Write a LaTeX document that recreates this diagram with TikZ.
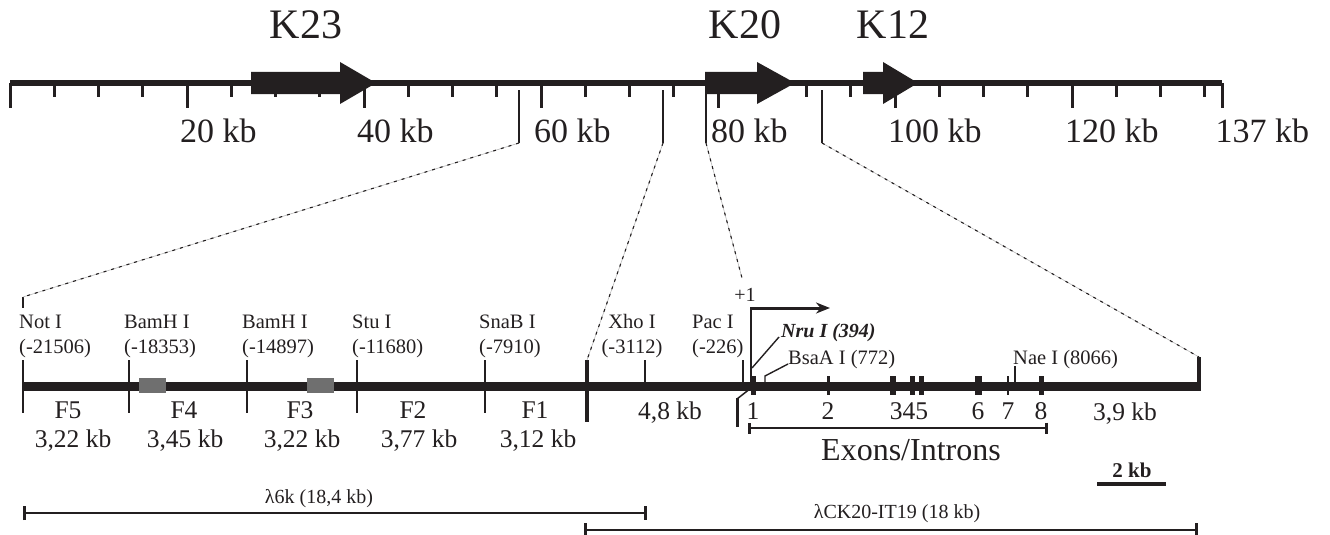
\documentclass[tikz,border=0pt]{standalone}
\usepackage{fontspec}
\setmainfont{Liberation Serif}
\usepackage{tikz}
\usetikzlibrary{
  arrows.meta,
  positioning,
  calc
}
\definecolor{mapInk}{HTML}{231F20}
\definecolor{mapGray}{HTML}{6F6F6F}
\definecolor{mapDash}{HTML}{B8B8B8}
\tikzset{
  chrom/.style={line width=6pt, mapInk},
  kbtick/.style={line width=3pt, mapInk},
  gene/.style={fill=mapInk},
  genelabel/.style={font=\fontsize{42}{50}\selectfont, inner sep=0pt, text=mapInk},
  kblabel/.style={font=\fontsize{34}{40}\selectfont, anchor=north west, inner sep=0pt, text=mapInk},
  marker/.style={line width=1.2pt, mapInk},
  zoomline/.style={mapInk, line width=1.1pt, dash pattern=on 3pt off 5pt,
    preaction={draw=mapDash, line width=0.6pt, solid}},
  mapline/.style={line width=9pt, mapInk},
  sitetick/.style={line width=1.3pt, mapInk},
  bigtick/.style={line width=4pt, mapInk},
  sitelabel/.style={font=\fontsize{20.5}{25}\selectfont, align=left, inner sep=0pt, text=mapInk},
  fraglabel/.style={font=\fontsize{25.5}{30}\selectfont, inner sep=0pt, anchor=base, text=mapInk},
  repeatbox/.style={fill=mapGray},
  exon/.style={fill=mapInk},
  leader/.style={line width=1.4pt, mapInk},
  exonspan/.style={line width=1.6pt, mapInk, {Bar[width=11pt, line width=3pt]}-{Bar[width=11pt, line width=3pt]}},
  clone/.style={line width=2.6pt, mapInk, {Bar[width=14pt]}-{Bar[width=14pt]}},
  clonelabel/.style={font=\fontsize{20}{24}\selectfont, inner sep=0pt, anchor=base, text=mapInk}
}

\begin{document}
\begin{tikzpicture}[x=1pt, y=-1pt]
  \useasboundingbox (0,0) rectangle (1330,535);
  % chromosome scale
  \draw[chrom] (10,83) -- (1222,83);
  \foreach \k in {5,10,...,135}
    \draw[kbtick] ({10+8.85*\k},83) -- ++(0,14);
  \foreach \k in {0,20,...,120,137}
    \draw[kbtick] ({10+8.85*\k},83) -- ++(0,25);
  \foreach \k in {20,40,...,120,137}
    \node[kblabel] (kb\k) at ({3+8.85*\k},119) {\k\ kb};
  \foreach \xa/\xb/\xc in {251/340/376, 705/757/795, 863/883/918}
    \fill[gene] (\xa,72) -- (\xb,72) -- (\xb,62) -- (\xc,83) -- (\xb,104) -- (\xb,94) -- (\xa,94) -- cycle;
  \node[genelabel] (k23) at (306,25) {K23};
  \node[genelabel] (k20) at (745,25) {K20};
  \node[genelabel] (k12) at (893,25) {K12};
  \foreach \x/\n in {519/a, 663/b, 706/c, 822/d}
    \draw[marker] (\x,90) -- (\x,143) coordinate (zm\n);

  % detailed map
  \draw[mapline] (23,386) -- (1199,386);
  \fill[repeatbox] (139,378) rectangle (166,393);
  \fill[repeatbox] (307,378) rectangle (334,393);
  \foreach \x/\n in {23/notI, 129/bamA, 247/bamB, 357/stu, 485/snab}
    \draw[sitetick] (\x,360) coordinate (\n) -- (\x,413);
  \draw[sitetick] (645,360) coordinate (xho) -- (645,386);
  \draw[sitetick] (743,360) coordinate (pac) -- (743,386);
  \draw[sitetick] (23,297) coordinate (notItop) -- (23,308);
  \draw[bigtick] (587,360) coordinate (brk) -- (587,422);
  \draw[bigtick] (1199,357) coordinate (mapend) -- (1199,390.5);
  \coordinate (tssup) at (742,278);
  \draw[zoomline] (zma) -- (notItop);
  \draw[zoomline] (zmb) -- (brk);
  \draw[zoomline] (zmc) -- (tssup);
  \draw[zoomline] (zmd) -- (mapend);

  \node[sitelabel, anchor=south west] (notIlab) at (19,358) {Not I\\(-21506)};
  \node[sitelabel, anchor=south west] (bamAlab) at (124,358) {BamH I\\(-18353)};
  \node[sitelabel, anchor=south west] (bamBlab) at (242,358) {BamH I\\(-14897)};
  \node[sitelabel, anchor=south west] (stulab) at (352,358) {Stu I\\(-11680)};
  \node[sitelabel, anchor=south west] (snablab) at (479,358) {SnaB I\\(-7910)};
  \node[sitelabel, anchor=south, align=center] (xholab) at (632,358) {Xho I\\(-3112)};
  \node[sitelabel, anchor=south west] (paclab) at (692,358) {Pac I\\(-226)};

  \foreach \xf/\f/\xs/\s in {68/F5/73/{3,22}, 184/F4/185/{3,45}, 300/F3/302/{3,22}, 413/F2/419/{3,77}, 535/F1/538/{3,12}} {
    \node[fraglabel] (\f) at (\xf,418) {\f};
    \node[fraglabel] (len\f) at (\xs,447) {\s\ kb};
  }
  \node[fraglabel] (lenXho) at (670,419) {4,8 kb};
  \node[fraglabel] (lenEnd) at (1125,420) {3,9 kb};

  % gene structure
  \foreach \x/\w in {753/5, 828/3, 893/6, 912/5, 921/5, 978/7, 1008/2, 1041/5}
    \fill[exon] ({\x-\w/2},376) rectangle ({\x+\w/2},395);
  \foreach \x/\n in {753/1, 828/2, 909/345, 978/6, 1008/7, 1041/8}
    \node[fraglabel] (ex\n) at (\x,419) {\n};
  \draw[exonspan] (748,428) coordinate (exL) -- (1048,428) coordinate (exR);
  \node[fraglabel, font=\fontsize{32}{38}\selectfont] (exons) at (911,460) {Exons/Introns};

  \draw[line width=1.8pt, mapInk] (751,386) -- (751,308) coordinate (tss);
  \draw[line width=3pt, mapInk, -{Stealth[length=14pt, width=11pt]}] ([xshift=-0.9pt]tss) -- (830,308);
  \node[clonelabel] (plus1) at (745,301) {+1};
  \node[sitelabel, font=\fontsize{20}{24}\selectfont\bfseries\itshape, anchor=base west] (nru) at (781,337) {Nru I (394)};
  \draw[leader] (752,368) -- ([xshift=-2pt]nru.base west);
  \node[sitelabel, anchor=base west] (bsaa) at (788,364) {BsaA I (772)};
  \draw[leader] (765,386) -- (765,376) -- (bsaa.base west);
  \node[sitelabel, anchor=base west] (nae) at (1013,364) {Nae I (8066)};
  \draw[sitetick] (1015,386) -- (1015,366);
  \draw[line width=1.5pt, mapInk] (751,388) -- (737,399);
  \draw[line width=3pt, mapInk] (737,398) -- (737,427);

  % scale bar and clones
  \draw[line width=4pt, mapInk] (1097,484) coordinate (barL) -- (1166,484) coordinate (barR);
  \node[clonelabel, font=\fontsize{21}{25}\selectfont\bfseries] (barlab) at (1132,477) {2 kb};
  \draw[clone] (23,513) coordinate (sixkL) -- (647,513) coordinate (sixkR);
  \node[clonelabel] (sixk) at (319,503) {λ6k (18,4 kb)};
  \draw[clone] (584,530) coordinate (ckL) -- (1198,530) coordinate (ckR);
  \node[clonelabel] (ck20) at (897,518) {λCK20-IT19 (18 kb)};
\end{tikzpicture}
\end{document}
